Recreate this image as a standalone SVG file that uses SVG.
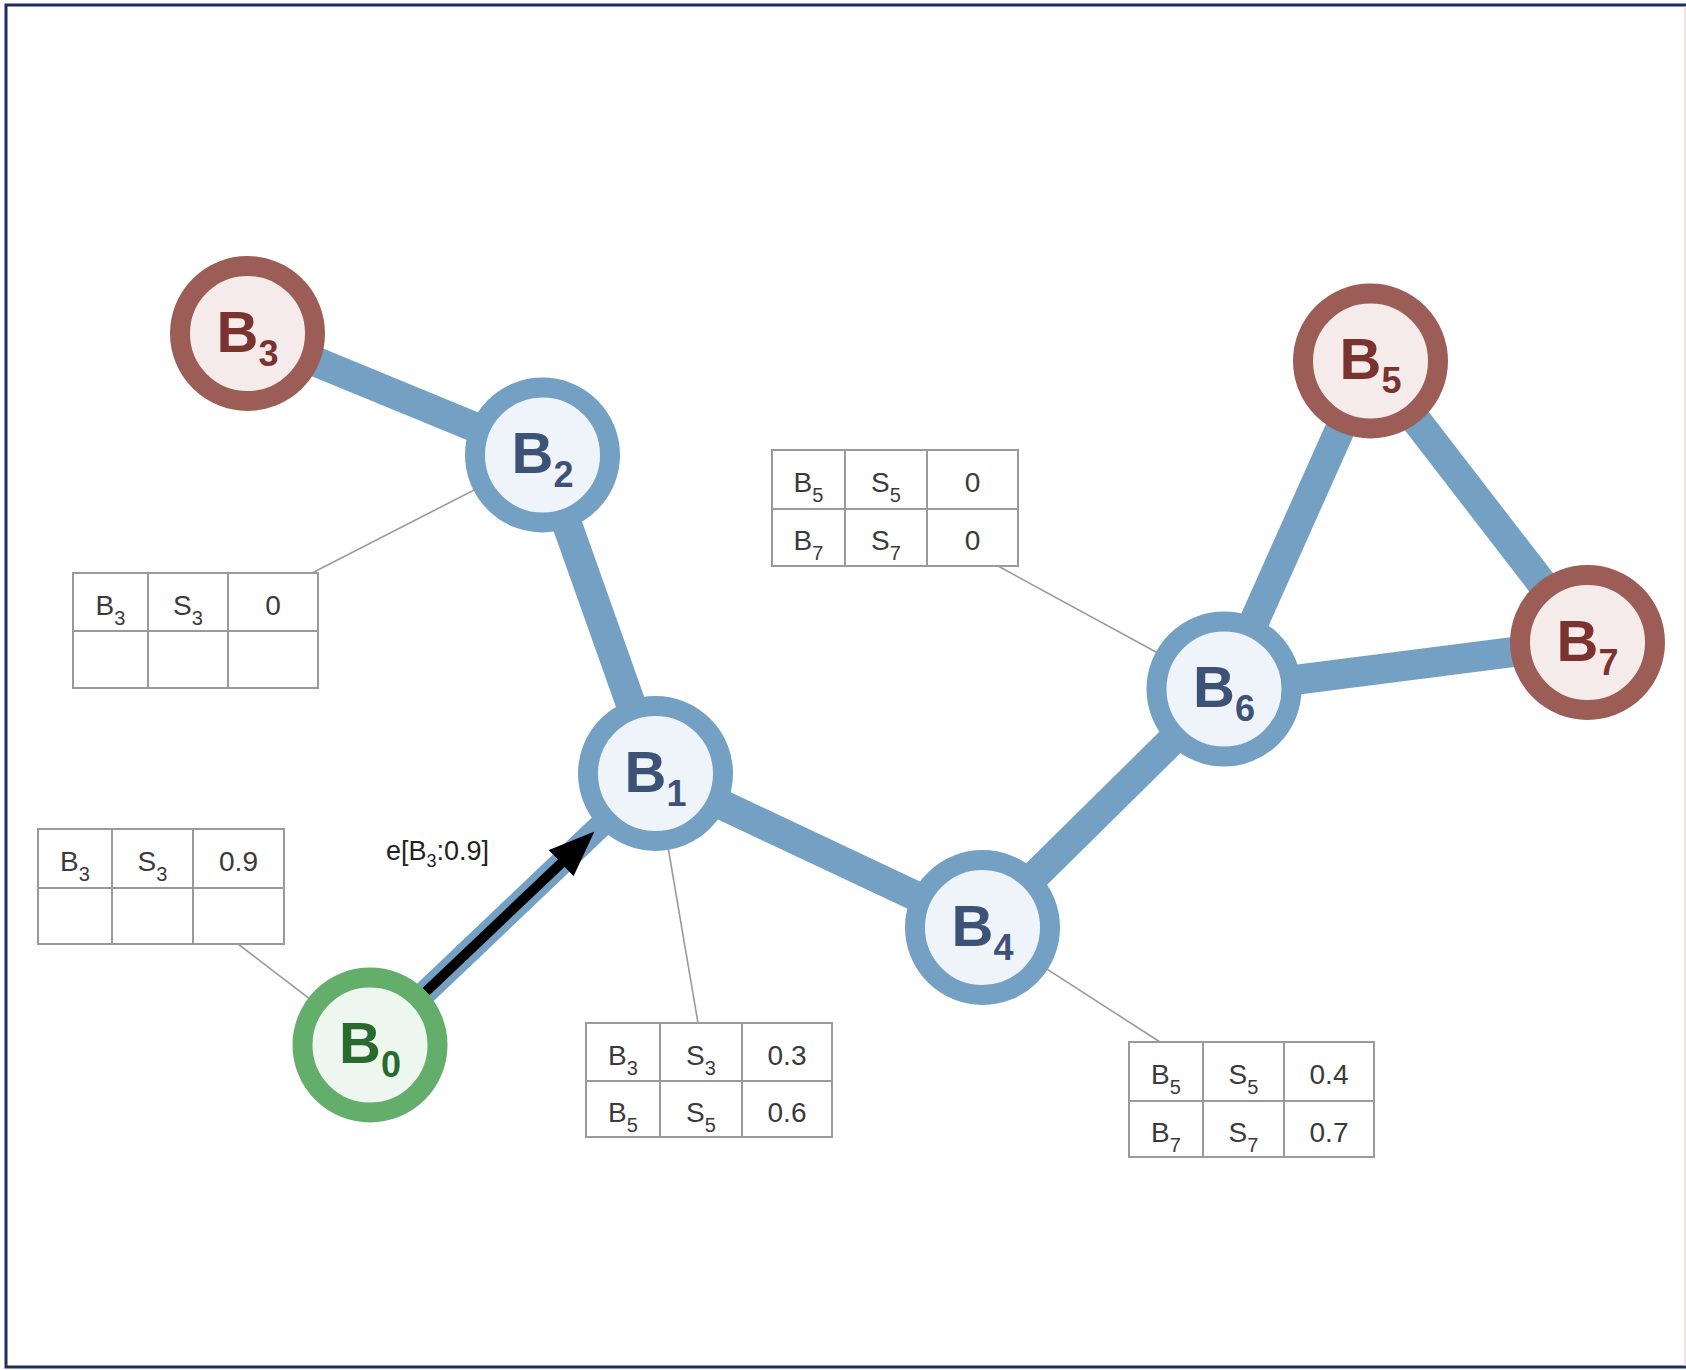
<svg xmlns="http://www.w3.org/2000/svg" width="1686" height="1370" viewBox="0 0 1686 1370">
<style>
.edge{stroke:#74a0c4;stroke-width:30;stroke-linecap:butt;fill:none}
.leader{stroke:#9a9a9a;stroke-width:1.6;fill:none}
.ring{stroke-width:20}
.blue .ring{stroke:#74a0c4;fill:#eef4fa}
.red .ring{stroke:#9c5d57;fill:#f5ebea}
.green .ring{stroke:#64ae6b;fill:#eef7ef}
.lbl{font-family:"Liberation Sans",Arial,sans-serif;font-weight:bold;font-size:58px;text-anchor:middle}
.blue .lbl{fill:#3d5277}
.red .lbl{fill:#7b3330}
.green .lbl{fill:#2b6a2f}
.sub{font-size:36px}
.tbl rect,.tbl line{stroke:#9a9a9a;stroke-width:2;fill:#fff}
.cell{font-family:"Liberation Sans",Arial,sans-serif;font-size:28px;fill:#3a3a3a;text-anchor:middle}
.cs{font-size:20px}
.elbl{font-family:"Liberation Sans",Arial,sans-serif;font-size:27px;fill:#222}
</style>
<defs>
<marker id="ah" markerUnits="userSpaceOnUse" markerWidth="46" markerHeight="36" refX="4" refY="18" orient="auto">
<path d="M0,0 L46,18 L0,36 Z" fill="#000"/>
</marker>
</defs>
<rect x="0" y="0" width="1686" height="1370" fill="#fff"/>
<path d="M1690,5 H6 V1367 H1690" fill="none" stroke="#1d2f5e" stroke-width="3"/>
<line x1="1685" y1="6" x2="1685" y2="1366" stroke="#e6c6c6" stroke-width="1"/>

<g id="leaders">
<line class="leader" x1="312" y1="573" x2="542.5" y2="455"/>
<line class="leader" x1="238" y1="944" x2="370" y2="1045"/>
<line class="leader" x1="698" y1="1023" x2="655.5" y2="773.5"/>
<line class="leader" x1="998" y1="566" x2="1224" y2="689"/>
<line class="leader" x1="1160" y1="1042" x2="982.5" y2="927.5"/>
</g>

<g id="connectors">
<line class="edge" x1="247.5" y1="333.5" x2="542.5" y2="455"/>
<line class="edge" x1="542.5" y1="455" x2="655.5" y2="773.5"/>
<line class="edge" x1="655.5" y1="773.5" x2="982.5" y2="927.5"/>
<line class="edge" x1="982.5" y1="927.5" x2="1224" y2="689"/>
<line class="edge" x1="1224" y1="689" x2="1370.5" y2="361"/>
<line class="edge" x1="1370.5" y1="361" x2="1587.5" y2="642.5"/>
<line class="edge" x1="1224" y1="689" x2="1587.5" y2="642.5"/>
<line class="edge" style="stroke-width:24" x1="370" y1="1045" x2="655.5" y2="773.5"/>
<line x1="426" y1="991.6" x2="564" y2="860.5" stroke="#000" stroke-width="10" marker-end="url(#ah)"/>
<text class="elbl" x="386" y="860">e[B<tspan style="font-size:18px" dy="7">3</tspan><tspan dy="-7">:0.9]</tspan></text>
</g>

<g id="B0" class="green"><circle class="ring" cx="370" cy="1045" r="67.5"/><text class="lbl" x="370" y="1063">B<tspan class="sub" dy="14">0</tspan></text></g>
<g id="B1" class="blue"><circle class="ring" cx="655.5" cy="773.5" r="67.5"/><text class="lbl" x="655.5" y="791.5">B<tspan class="sub" dy="14">1</tspan></text></g>
<g id="B2" class="blue"><circle class="ring" cx="542.5" cy="455" r="67.5"/><text class="lbl" x="542.5" y="473">B<tspan class="sub" dy="14">2</tspan></text></g>
<g id="B3" class="red"><circle class="ring" cx="247.5" cy="333.5" r="67.5"/><text class="lbl" x="247.5" y="351.5">B<tspan class="sub" dy="14">3</tspan></text></g>
<g id="B4" class="blue"><circle class="ring" cx="982.5" cy="927.5" r="67.5"/><text class="lbl" x="982.5" y="945.5">B<tspan class="sub" dy="14">4</tspan></text></g>
<g id="B5" class="red"><circle class="ring" cx="1370.5" cy="361" r="67.5"/><text class="lbl" x="1370.5" y="379">B<tspan class="sub" dy="14">5</tspan></text></g>
<g id="B6" class="blue"><circle class="ring" cx="1224" cy="689" r="67.5"/><text class="lbl" x="1224" y="707">B<tspan class="sub" dy="14">6</tspan></text></g>
<g id="B7" class="red"><circle class="ring" cx="1587.5" cy="642.5" r="67.5"/><text class="lbl" x="1587.5" y="660.5">B<tspan class="sub" dy="14">7</tspan></text></g>

<g id="table-B2" class="tbl">
<rect x="73" y="573" width="245" height="115"/>
<line x1="148" y1="573" x2="148" y2="688"/><line x1="228" y1="573" x2="228" y2="688"/>
<line x1="73" y1="631" x2="318" y2="631"/>
<text class="cell" x="110.5" y="615">B<tspan class="cs" dy="10">3</tspan></text>
<text class="cell" x="188" y="615">S<tspan class="cs" dy="10">3</tspan></text>
<text class="cell" x="273" y="615">0</text>
</g>

<g id="table-B0" class="tbl">
<rect x="38" y="829" width="246" height="115"/>
<line x1="112" y1="829" x2="112" y2="944"/><line x1="193" y1="829" x2="193" y2="944"/>
<line x1="38" y1="888" x2="284" y2="888"/>
<text class="cell" x="75" y="871">B<tspan class="cs" dy="10">3</tspan></text>
<text class="cell" x="152.5" y="871">S<tspan class="cs" dy="10">3</tspan></text>
<text class="cell" x="238.5" y="871">0.9</text>
</g>

<g id="table-B1" class="tbl">
<rect x="586" y="1023" width="246" height="114"/>
<line x1="660" y1="1023" x2="660" y2="1137"/><line x1="742" y1="1023" x2="742" y2="1137"/>
<line x1="586" y1="1081" x2="832" y2="1081"/>
<text class="cell" x="623" y="1065">B<tspan class="cs" dy="10">3</tspan></text>
<text class="cell" x="701" y="1065">S<tspan class="cs" dy="10">3</tspan></text>
<text class="cell" x="787" y="1065">0.3</text>
<text class="cell" x="623" y="1122">B<tspan class="cs" dy="10">5</tspan></text>
<text class="cell" x="701" y="1122">S<tspan class="cs" dy="10">5</tspan></text>
<text class="cell" x="787" y="1122">0.6</text>
</g>

<g id="table-B6" class="tbl">
<rect x="772" y="450" width="246" height="116"/>
<line x1="845" y1="450" x2="845" y2="566"/><line x1="927" y1="450" x2="927" y2="566"/>
<line x1="772" y1="509" x2="1018" y2="509"/>
<text class="cell" x="808.5" y="492">B<tspan class="cs" dy="10">5</tspan></text>
<text class="cell" x="886" y="492">S<tspan class="cs" dy="10">5</tspan></text>
<text class="cell" x="972.5" y="492">0</text>
<text class="cell" x="808.5" y="550">B<tspan class="cs" dy="10">7</tspan></text>
<text class="cell" x="886" y="550">S<tspan class="cs" dy="10">7</tspan></text>
<text class="cell" x="972.5" y="550">0</text>
</g>

<g id="table-B4" class="tbl">
<rect x="1129" y="1042" width="245" height="115"/>
<line x1="1203" y1="1042" x2="1203" y2="1157"/><line x1="1284" y1="1042" x2="1284" y2="1157"/>
<line x1="1129" y1="1101" x2="1374" y2="1101"/>
<text class="cell" x="1166" y="1084">B<tspan class="cs" dy="10">5</tspan></text>
<text class="cell" x="1243.5" y="1084">S<tspan class="cs" dy="10">5</tspan></text>
<text class="cell" x="1329" y="1084">0.4</text>
<text class="cell" x="1166" y="1142">B<tspan class="cs" dy="10">7</tspan></text>
<text class="cell" x="1243.5" y="1142">S<tspan class="cs" dy="10">7</tspan></text>
<text class="cell" x="1329" y="1142">0.7</text>
</g>
</svg>
